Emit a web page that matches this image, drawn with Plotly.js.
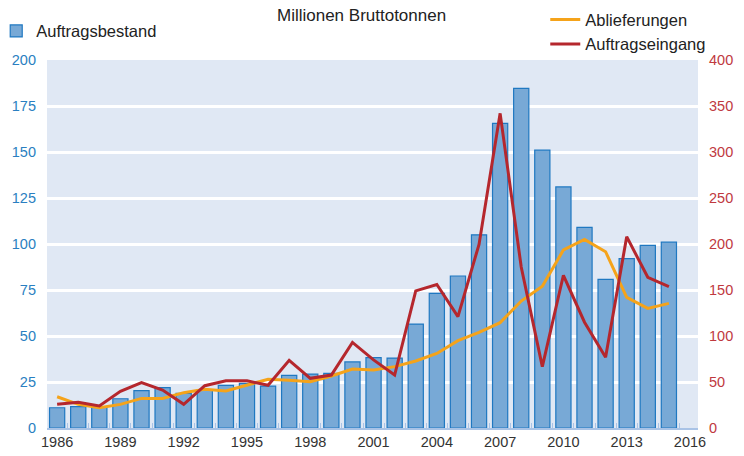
<!DOCTYPE html>
<html>
<head>
<meta charset="utf-8">
<script src="https://cdn.plot.ly/plotly-3.0.1.min.js"></script>
<style>html,body{margin:0;padding:0;background:#fff}#chart{width:744px;height:456px}</style>
</head>
<body>
<div id="chart"></div>
<script>
const years = [1986,1987,1988,1989,1990,1991,1992,1993,1994,1995,1996,1997,1998,1999,2000,2001,2002,2003,2004,2005,2006,2007,2008,2009,2010,2011,2012,2013,2014,2015];
const auftragsbestand = [11,11.6,11.2,15.9,20.3,21.9,18.8,20.6,23.2,24.3,22.8,28.6,29.3,29.7,35.9,38.2,38,56.5,73.2,82.6,105,165.6,184.6,151,131,109,80.8,92,99.3,101];
const ablieferungen = [34,25.7,22,25.7,32.2,32.2,38.4,42,40.2,46.7,53,52,50.4,56.5,64,63,66.7,72.8,81,95,104,114.5,138,154,193.5,205,191.6,142,130,135.5];
const auftragseingang = [25.7,28,23.9,39.9,49.3,41.3,25.7,46,51.4,51.4,46.4,73.6,54,57.6,93,74,57.6,149,156,121,199.6,342,175,66.7,166,115,76.8,208,163.8,153.6];
const names = ['Auftragsbestand','Ablieferungen','Auftragseingang'];
const titleText = 'Millionen Bruttotonnen';

const font = 'Liberation Sans, Arial, sans-serif';
const traces = [
  {type:'bar', x:years, y:auftragsbestand, name:names[0], width:0.72,
   marker:{color:'#78a9d6', line:{color:'#1f78c1', width:1.2}}, legend:'legend', yaxis:'y'},
  {type:'scatter', mode:'lines', x:years, y:ablieferungen, name:names[1],
   line:{color:'#f5a31a', width:3}, yaxis:'y2', legend:'legend2'},
  {type:'scatter', mode:'lines', x:years, y:auftragseingang, name:names[2],
   line:{color:'#b5272d', width:3}, yaxis:'y2', legend:'legend2'}
];
const layout = {
  width:744, height:456,
  margin:{l:47, r:46, t:60, b:28, autoexpand:false},
  paper_bgcolor:'#ffffff', plot_bgcolor:'#e0e8f4',
  font:{family:font, size:14, color:'#333'},
  title:{text:titleText, x:0.486, xanchor:'center', y:0.98, yanchor:'top', font:{family:font, size:17, color:'#222'}},
  xaxis:{range:[1985.52,2016.38], tickmode:'linear', tick0:1986, dtick:3, ticks:'', showgrid:false, zeroline:false,
         showline:true, linecolor:'#a9c3e6', linewidth:1.5, tickfont:{size:14.5, color:'#333'},
         minor:{tickmode:'linear', tick0:1985.5, dtick:1, ticks:'inside', ticklen:5, tickcolor:'#a9c3e6', showgrid:false}},
  yaxis:{range:[0,200], dtick:25, gridcolor:'#ffffff', gridwidth:3, zeroline:false, showline:false,
         tickfont:{size:14.5, color:'#2a7fc1'}, ticklabelstandoff:10},
  yaxis2:{range:[0,400], dtick:50, overlaying:'y', side:'right', showgrid:false, zeroline:false,
          tickfont:{size:14.5, color:'#c0393f'}, ticklabelstandoff:10},
  legend:{x:-0.078, xref:'paper', y:0.97, yref:'container', xanchor:'left', yanchor:'top',
          bgcolor:'rgba(0,0,0,0)', font:{size:16.5, color:'#222'}, orientation:'h', itemwidth:30},
  legend2:{x:0.956, xref:'container', y:0.995, yref:'container', xanchor:'right', yanchor:'top',
          bgcolor:'rgba(0,0,0,0)', font:{size:16.5, color:'#222'}, tracegroupgap:0, itemwidth:30},
  showlegend:true
};
Plotly.newPlot('chart', traces, layout, {displayModeBar:false, staticPlot:true});
</script>
</body>
</html>
